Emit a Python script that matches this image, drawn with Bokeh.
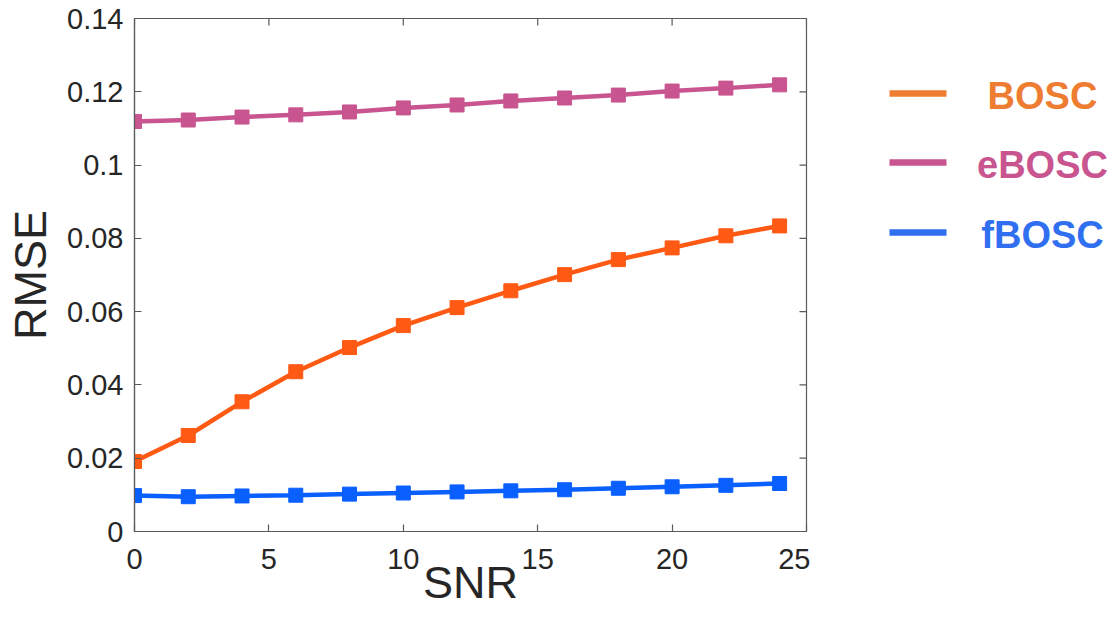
import math
from bokeh.plotting import figure
from bokeh.models import Range1d, FixedTicker
from bokeh.layouts import row
from bokeh.embed import file_html
from bokeh.resources import INLINE
from bokeh.core.properties import value

snr = [0, 2, 4, 6, 8, 10, 12, 14, 16, 18, 20, 22, 24]
bosc = [0.0191, 0.0262, 0.0354, 0.0436, 0.0502, 0.0562, 0.0611, 0.0657, 0.0701, 0.0742, 0.0774, 0.0807, 0.0834]
ebosc = [0.1119, 0.1123, 0.1131, 0.1137, 0.1145, 0.1156, 0.1164, 0.1175, 0.1183, 0.1191, 0.1202, 0.1210, 0.1219]
fbosc = [0.0098, 0.0095, 0.0097, 0.0099, 0.0102, 0.0105, 0.0108, 0.0111, 0.0114, 0.0118, 0.0122, 0.0126, 0.0131]

series_names = ["BOSC", "eBOSC", "fBOSC"]
line_colors = ["#FF5A14", "#C8558F", "#0A5FFF"]
legend_colors = ["#EE7D31", "#C8558F", "#2F6FF0"]

x_ticks = [0, 5, 10, 15, 20, 25]
y_ticks = [0, 0.02, 0.04, 0.06, 0.08, 0.1, 0.12, 0.14]
y_tick_labels = ["0", "0.02", "0.04", "0.06", "0.08", "0.1", "0.12", "0.14"]
x_title, y_title = "SNR", "RMSE"

FONT = "Liberation Sans"
TXT = "#262626"
AX = "#5a5a5a"
OFF = 2            # observed page offset of the layout
H = 627
W1, W2 = 810, 301
LEFT, RIGHT, TOP, BOTTOM = 134, 4, 18, 96

p = figure(width=W1, height=H, output_backend="svg", toolbar_location=None,
           x_range=Range1d(0, 25), y_range=Range1d(0, 0.14),
           min_border_left=LEFT, min_border_right=RIGHT, min_border_top=TOP, min_border_bottom=BOTTOM)
p.outline_line_color = AX
p.outline_line_width = 1.2
p.xgrid.visible = False
p.ygrid.visible = False

p.xaxis.ticker = FixedTicker(ticks=x_ticks)
p.yaxis.ticker = FixedTicker(ticks=y_ticks)
p.yaxis.major_label_overrides = {t: l for t, l in zip(y_ticks, y_tick_labels)}

for ax in list(p.xaxis) + list(p.yaxis):
    ax.axis_line_color = AX
    ax.axis_line_width = 1.2
    ax.major_tick_line_color = AX
    ax.major_tick_line_width = 1.2
    ax.major_tick_in = 7
    ax.major_tick_out = 0
    ax.minor_tick_line_color = None
    ax.major_label_text_font = FONT
    ax.major_label_text_font_size = "29px"
    ax.major_label_text_color = TXT
    ax.axis_label_text_font = FONT
    ax.axis_label_text_font_size = "45px"
    ax.axis_label_text_font_style = "normal"
    ax.axis_label_text_color = TXT

p.xaxis.axis_label = x_title
p.yaxis.axis_label = y_title
p.xaxis.major_label_standoff = 17
p.xaxis.axis_label_standoff = -15
p.yaxis.major_label_standoff = 11
p.yaxis.axis_label_standoff = 8

# mirrored (box) ticks on top and right edges, half clipped by the frame
p.scatter(x_ticks, [y_ticks[-1]] * len(x_ticks), marker="dash", size=14, angle=math.pi / 2,
          line_color=AX, line_width=1.2)
p.scatter([x_ticks[-1]] * len(y_ticks), y_ticks, marker="dash", size=14,
          line_color=AX, line_width=1.2)

for ys, c in zip([bosc, ebosc, fbosc], line_colors):
    p.line(snr, ys, line_color=c, line_width=4.5)
    p.scatter(snr, ys, marker="square", size=14, fill_color=c, line_color=c)

# legend panel: data coordinates equal page pixels
lg = figure(width=W2, height=H, output_backend="svg", toolbar_location=None,
            x_range=Range1d(OFF + W1, OFF + W1 + W2), y_range=Range1d(OFF + H - BOTTOM, OFF + TOP),
            min_border_left=0, min_border_right=0, min_border_top=TOP, min_border_bottom=BOTTOM,
            x_axis_location=None, y_axis_location=None)
lg.outline_line_color = None
lg.xgrid.visible = False
lg.ygrid.visible = False
leg_line_x = [891, 948]
leg_text_x = 1044
leg_y = [95, 164, 234]
for name, c, y in zip(series_names, legend_colors, leg_y):
    lg.line(leg_line_x, [y, y], line_color=c, line_width=6.5)
    lg.text([leg_text_x], [y + 2], text=[name], text_color=c, text_font=value(FONT),
            text_font_size="38px", text_font_style="bold",
            text_align="center", text_baseline="middle")

layout = row(p, lg)
open("out.html", "w").write(file_html(layout, INLINE))
